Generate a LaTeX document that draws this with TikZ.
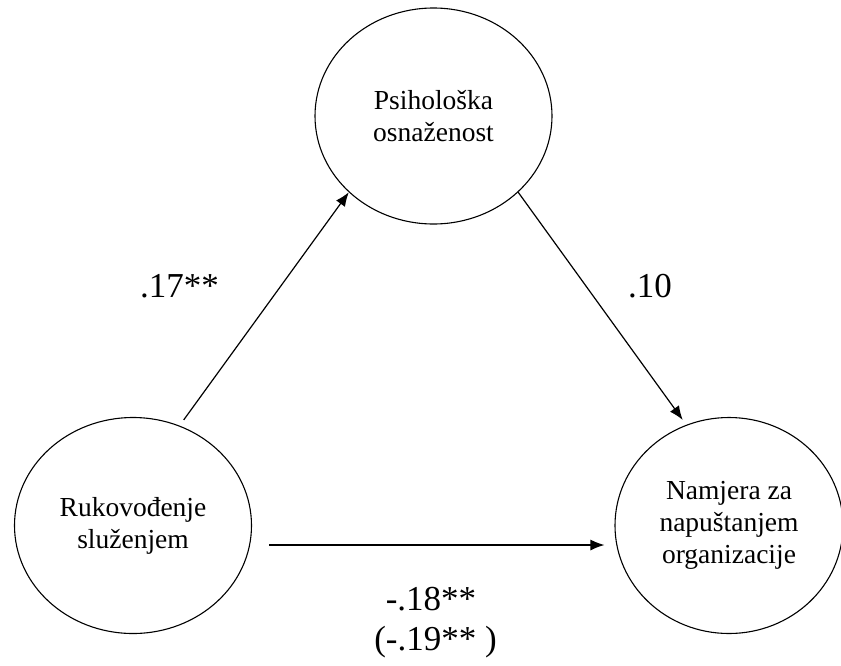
\documentclass[tikz,border=0pt]{standalone}
\usepackage{fontspec}
\setmainfont{Liberation Serif}
\usetikzlibrary{shapes.geometric,arrows.meta,positioning}

\tikzset{
  var/.style={draw,ellipse,line width=1.1pt,minimum width=237pt,minimum height=216pt,
    inner sep=0pt,align=center,font=\fontsize{27.5}{32}\selectfont},
  coef/.style={anchor=base,inner sep=0pt,font=\fontsize{35}{40}\selectfont},
  effect/.style={-{Latex[length=14pt,width=11pt]},line width=1.2pt}
}

\begin{document}
\begin{tikzpicture}[x=1pt,y=-1pt]
  \useasboundingbox (0,0) rectangle (841,665);
  \node[var] (pso) at (433.5,116) {Psihološka\\osnaženost};
  \node[var] (rs) at (133,525.5) {Rukovođenje\\služenjem};
  \node[var,minimum width=228pt] (nno) at (729,525.5) {Namjera za\\napuštanjem\\organizacije};

  \draw[effect,shorten <=7pt] (rs.65) -- (pso.222);
  \draw[effect,shorten >=6pt] (pso.318) -- (nno.113);
  \draw[effect,shorten <=17pt,shorten >=10pt] ([yshift=-19.5pt]rs.east) -- ([yshift=-19.5pt]nno.west);

  \node[coef] (a) at (179.5,297) {.17**};
  \node[coef] (b) at (650,297) {.10};
  \node[coef] (c) at (431,610) {-.18**};
  \node[coef] (cp) at (435.5,650) {(-.19** )};
\end{tikzpicture}
\end{document}
